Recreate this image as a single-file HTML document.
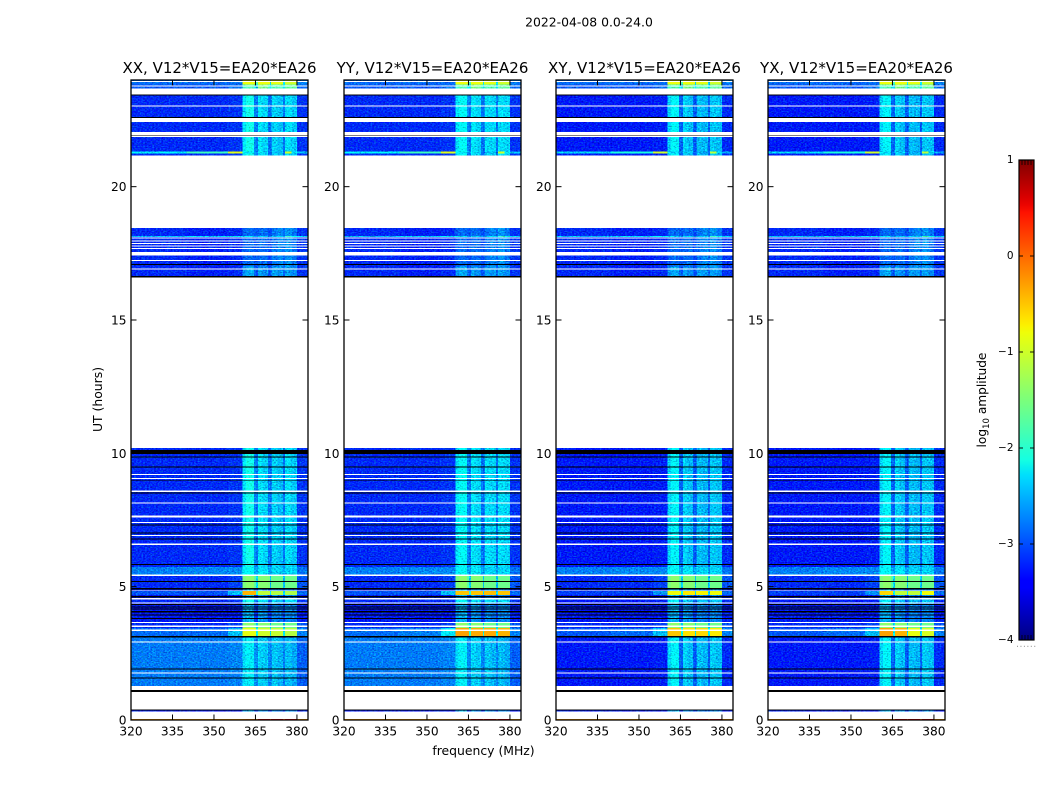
<!DOCTYPE html>
<html>
<head>
<meta charset="utf-8">
<title>2022-04-08 0.0-24.0</title>
<style>
html,body{margin:0;padding:0;background:#fff;}
svg{display:block;font-family:"DejaVu Sans","Liberation Sans",sans-serif;fill:#000;}
</style>
</head>
<body>
<svg id="chart" xmlns="http://www.w3.org/2000/svg" width="1050" height="800" viewBox="0 0 1050 800">
  <defs>
    <linearGradient id="jetGradient" x1="0" y1="1" x2="0" y2="0"></linearGradient>
    <filter id="grain" filterUnits="userSpaceOnUse" x="0" y="0" width="1050" height="800" color-interpolation-filters="sRGB">
      <feTurbulence type="fractalNoise" baseFrequency="0.55 0.8" numOctaves="1" seed="7" result="n"/>
      <feColorMatrix in="n" type="matrix" values="2.4 0 0 0 -0.7  2.4 0 0 0 -0.7  2.4 0 0 0 -0.7  0 0 0 0 1" result="m"/>
      <feColorMatrix in="n" type="matrix" values="0 0 0 0 0  0 1.9 0 0 -0.75  0 0 0 0 0  0 0 0 0 1" result="g"/>
      <feComposite in="SourceGraphic" in2="m" operator="arithmetic" k1="0.5" k2="0.78" k3="0" k4="0" result="shaded"/>
      <feComposite in="shaded" in2="g" operator="arithmetic" k1="0" k2="1" k3="0.48" k4="0" result="speckled"/>
      <feComposite in="speckled" in2="SourceAlpha" operator="in"/>
    </filter>
  </defs>
  <text x="589" y="26.5" font-size="12.4" text-anchor="middle">2022-04-08 0.0-24.0</text>
  <text x="102" y="399.5" font-size="12.4" text-anchor="middle" transform="rotate(-90 102 399.5)">UT (hours)</text>
  <text x="483.5" y="755" font-size="12.4" text-anchor="middle">frequency (MHz)</text>
  <text x="986" y="400" font-size="12.2" text-anchor="middle" transform="rotate(-90 986 400)">log<tspan font-size="8.5" dy="3">10</tspan><tspan dy="-3"> amplitude</tspan></text>
  <g id="panels"></g>
  <g id="colorbar"></g>
</svg>
<script>
// ---- data ----
const polarisations = ['XX', 'YY', 'XY', 'YX'];
const baselineLabel = 'V12*V15=EA20*EA26';
const frequencyEdges = [320, 340, 355, 360.4, 361.5, 364.5, 365.2, 365.9, 367.5, 369.5, 370.3, 370.6, 371, 373, 375, 375.7, 378, 380, 384];
const frequencyTicks = [320, 335, 350, 365, 380];
const hourTicks = [0, 5, 10, 15, 20];
const colorbarTicks = [1, 0, -1, -2, -3, -4];
const colorbarLabels = ['1', '0', '\u22121', '\u22122', '\u22123', '\u22124'];

// log10 amplitude per frequency bin, per spectrum kind (optionally per polarisation)
const quiet = [-3.3, -3.3, -3.25, -2.4, -2.15, -2.85, -2.95, -2.4, -2.5, -2.95, -3, -2.85, -2.5, -2.6, -2.95, -2.45, -2.55, -3.25];
const quietYY = [-3.3, -3.3, -3.25, -2.4, -2.25, -2.85, -2.95, -2.4, -2.5, -2.95, -3, -2.85, -2.45, -2.5, -2.95, -2.45, -2.5, -3.25];
const quietCross = [-3.4, -3.4, -3.35, -2.5, -2.3, -3, -3.05, -2.5, -2.6, -3.05, -3.1, -2.95, -2.6, -2.65, -3.05, -2.55, -2.6, -3.3];
const weak = [-3.3, -3.35, -3.3, -3.05, -3, -3.1, -3.1, -3, -3, -3.15, -3.15, -3.1, -2.95, -2.85, -3, -2.8, -2.95, -3.25];
const weakLower = [-3.3, -3.35, -3.3, -2.8, -2.7, -3, -3.1, -2.75, -2.85, -3.1, -3.1, -3, -2.75, -2.8, -3, -2.75, -2.85, -3.25];
const dim = [-3.5, -3.5, -3.45, -2.75, -2.65, -3.2, -3.25, -2.75, -2.85, -3.2, -3.25, -3.15, -2.85, -2.95, -3.2, -2.85, -2.9, -3.35];
const band = [-3.3, -3.3, -3.2, -1.5, -1.4, -1.7, -2.5, -1.45, -1.45, -1.5, -2.6, -1.6, -1.6, -1.6, -2.6, -1.6, -1.6, -3.1];
const wide = [-2.9, -2.85, -2.85, -2.3, -2.25, -2.65, -2.75, -2.4, -2.4, -2.75, -2.75, -2.65, -2.5, -2.5, -2.75, -2.5, -2.5, -2.95];
const sky = [-2.92, -2.92, -2.88, -2.45, -2.35, -2.8, -2.85, -2.5, -2.55, -2.85, -2.9, -2.8, -2.55, -2.65, -2.9, -2.6, -2.7, -3.05];
const hotXX = [-3, -3, -2.6, -0.85, -0.85, -0.85, -2.2, -1, -1, -1, -2.4, -1.05, -1.05, -1.05, -2.4, -1.15, -1.15, -2.9];
const hotYY = [-3, -2.9, -2.4, -0.3, -0.3, -0.3, -2, -0.35, -0.35, -0.35, -2.2, -0.35, -0.35, -0.35, -2.2, -0.4, -0.4, -2.9];
const hotXY = [-3.1, -3, -2.6, -0.5, -0.5, -0.5, -2.2, -0.65, -0.65, -0.65, -2.4, -0.6, -0.6, -0.6, -2.4, -0.7, -0.7, -2.9];
const hotYX = [-3.1, -3, -2.6, -0.3, -0.3, -0.3, -2.2, -0.4, -0.4, -0.4, -2.4, -0.85, -0.85, -0.85, -2.4, -0.95, -0.95, -2.9];
const warmXX = [-3.1, -3.1, -2.6, -0.4, -0.4, -0.4, -2, -1.1, -1.1, -1.1, -2.4, -1.15, -1.15, -1.15, -2.4, -1.2, -1.2, -3];
const warmYY = [-3.1, -3.1, -2.6, -0.5, -0.5, -0.5, -2, -0.5, -0.5, -0.5, -2.4, -0.45, -0.45, -0.45, -2.4, -0.5, -0.5, -3];
const warmXY = [-3.2, -3.2, -2.8, -0.8, -0.8, -0.8, -2.2, -0.7, -0.7, -0.7, -2.4, -0.75, -0.75, -0.75, -2.4, -0.8, -0.8, -3];
const warmYX = [-3.2, -3.2, -2.8, -0.6, -0.6, -0.6, -2.2, -1.1, -1.1, -1.1, -2.4, -1.1, -1.1, -1.1, -2.4, -0.8, -0.8, -3];
const sparkLine = [-2.3, -1.9, -0.9, -2.3, -2.4, -2.8, -2.8, -2.4, -2.5, -3, -3, -2.9, -2.6, -2.6, -2.9, -1, -2.4, -2.6];
const sparkCross = [-2.5, -2.1, -1, -2.4, -2.5, -2.9, -2.9, -2.5, -2.6, -3, -3, -2.9, -2.7, -2.7, -2.9, -1.1, -2.5, -2.7];
const sparkCyan = [-2.6, -2.5, -2.4, -2.4, -2.4, -2.7, -2.7, -2.5, -2.5, -2.8, -2.8, -2.7, -2.5, -2.5, -2.6, -1.9, -2.2, -2.5];
const crown = [-3, -3, -3, -0.8, -0.8, -0.8, -1.8, -0.8, -0.8, -0.8, -2.4, -0.85, -0.85, -0.85, -2.4, -1, -1, -2.9];
const crownLow = [-3.1, -3.1, -3, -1.9, -1.8, -2.2, -2.5, -1.5, -1.6, -1.9, -2.4, -1.9, -1.8, -1.8, -2.4, -1.7, -1.7, -3];
const edgeRow = [-0.3, -0.3, -0.3, -0.2, -0.1, -0.1, -0.2, 0.6, 0.6, 0.6, 0, 0.6, 0.6, 0.6, 0, 0.6, 0.6, -0.3];

const spectra = {
  quiet: quiet, quiet_YY: quietYY, quiet_XY: quietCross, quiet_YX: quietCross,
  weak: weak, weakLower: weakLower, dim: dim, band: band, wide: wide,
  sky: sky, sky_XY: quietCross, sky_YX: quietCross,
  hot_XX: hotXX, hot_YY: hotYY, hot_XY: hotXY, hot_YX: hotYX,
  warm_XX: warmXX, warm_YY: warmYY, warm_XY: warmXY, warm_YX: warmYX,
  spark: sparkLine, spark_XY: sparkCross, spark_YX: sparkCross,
  sparkCyan: sparkCyan, crown: crown, crownLow: crownLow, edge: edgeRow
};
// kinds whose bright cells look flat rather than noisy in the reference
const flatKinds = ['hot', 'warm', 'band', 'spark', 'crown', 'edge'];
const flatAbove = -2.2;

// [start hour, end hour, kind] in paint order
const spectrumRows = [
  [0, 0.04, 'edge'], [0.31, 0.35, 'dim'],
  [1.27, 3.11, 'sky'],
  [3.15, 3.45, 'hot'], [3.45, 3.63, 'band'],
  [3.68, 4.37, 'dim'], [4.41, 4.51, 'quiet'], [4.57, 4.68, 'dim'],
  [4.68, 4.83, 'warm'], [4.86, 4.95, 'dim'], [4.95, 5.40, 'band'],
  [5.45, 5.74, 'wide'], [5.74, 9.97, 'quiet'], [10.12, 10.20, 'quiet'],
  [16.63, 17.0, 'weakLower'], [17.0, 18.45, 'weak'], [18.11, 18.15, 'sparkCyan'],
  [21.17, 23.46, 'quiet'], [21.25, 21.31, 'spark'],
  [23.68, 23.84, 'crownLow'], [23.84, 24, 'crown']
];
// rows with no data (white)
const missingRows = [
  [1.75, 1.79], [2.91, 2.95], [3.34, 3.39], [3.49, 3.54], [3.63, 3.68],
  [4.37, 4.41], [4.51, 4.57], [4.83, 4.86], [5.40, 5.45],
  [6.57, 6.61], [6.90, 6.94], [7.38, 7.43], [7.60, 7.67], [8.12, 8.15],
  [8.55, 8.61], [9.04, 9.08], [9.19, 9.23],
  [16.89, 16.93], [17.21, 17.25], [17.42, 17.55], [17.66, 17.70], [17.76, 17.79],
  [17.85, 17.89], [17.94, 17.98], [18.05, 18.09],
  [21.86, 21.91], [21.94, 22.05], [22.43, 22.58], [23.01, 23.05], [23.46, 23.68],
  [23.76, 23.80], [23.92, 23.96]
];
// rows flagged as zero amplitude (black)
const blackRows = [
  [0.35, 0.39], [1.05, 1.12], [1.56, 1.60], [1.89, 1.93], [3.10, 3.15],
  [3.78, 3.82], [3.91, 3.95], [4.04, 4.08], [4.15, 4.19], [4.21, 4.25], [4.31, 4.35],
  [4.60, 4.65], [4.90, 4.95], [5.17, 5.22], [5.81, 5.85],
  [6.76, 6.81], [6.99, 7.03], [7.29, 7.33], [8.50, 8.53], [8.96, 8.99],
  [9.47, 9.50], [9.85, 9.88], [9.97, 10.12],
  [16.60, 16.65], [17.06, 17.10],
  [21.91, 21.94], [22.58, 22.62], [23.42, 23.46]
];

// ---- layout + scales ----
const NS = 'http://www.w3.org/2000/svg';
const plotTop = 80, plotBottom = 720, plotWidth = 177;
const panelStep = 212.33, firstPanel = 131.4;
const freqMin = 320, freqMax = 384, hourMax = 24, ampMin = -4, ampMax = 1;
const cbLeft = 1019, cbWidth = 15, cbTop = 160, cbBottom = 640;

function xScale(f, left) { return left + (f - freqMin) / (freqMax - freqMin) * plotWidth; }
function yScale(h) { return plotBottom - h / hourMax * (plotBottom - plotTop); }
function cbScale(v) { return cbBottom - (v - ampMin) / (ampMax - ampMin) * (cbBottom - cbTop); }

function piece(t, pts) {
  for (let i = 1; i < pts.length; i++) {
    if (t <= pts[i][0]) {
      const a = pts[i - 1], b = pts[i];
      return a[1] + (b[1] - a[1]) * (t - a[0]) / (b[0] - a[0]);
    }
  }
  return pts[pts.length - 1][1];
}
function jet(t) {
  t = Math.max(0, Math.min(1, t));
  const r = piece(t, [[0, 0], [0.35, 0], [0.66, 1], [0.89, 1], [1, 0.5]]);
  const g = piece(t, [[0, 0], [0.125, 0], [0.375, 1], [0.64, 1], [0.91, 0], [1, 0]]);
  const b = piece(t, [[0, 0.5], [0.11, 1], [0.34, 1], [0.65, 0], [1, 0]]);
  return 'rgb(' + Math.round(r * 255) + ',' + Math.round(g * 255) + ',' + Math.round(b * 255) + ')';
}
function ampColor(v) { return jet((v - ampMin) / (ampMax - ampMin)); }

function make(tag, attrs, parent) {
  const el = document.createElementNS(NS, tag);
  for (const k in attrs) el.setAttribute(k, attrs[k]);
  parent.appendChild(el);
  return el;
}

// ---- panels ----
const panelsRoot = document.getElementById('panels');
polarisations.forEach(function (pol, p) {
  const left = Math.round(firstPanel + p * panelStep);
  const panel = make('g', {}, panelsRoot);
  
  

  const title = make('text', { x: left + plotWidth / 2, y: 73, 'font-size': 15, 'text-anchor': 'middle' }, panel);
  title.textContent = pol + ', ' + baselineLabel;
  
  

  const cells = make('g', { filter: 'url(#grain)', 'shape-rendering': 'crispEdges' }, panel);
  
  

  const flatCells = make('g', { 'shape-rendering': 'crispEdges' }, panel);
  
  

  spectrumRows.forEach(function (row) {
    const values = spectra[row[2] + '_' + pol] || spectra[row[2]];
    const isFlat = flatKinds.indexOf(row[2]) >= 0;
    const y0 = yScale(row[1]), y1 = yScale(row[0]);
    values.forEach(function (v, b) {
      const target = isFlat && v > flatAbove ? flatCells : cells;
      const x0 = xScale(frequencyEdges[b], left), x1 = xScale(frequencyEdges[b + 1], left);
      const cell = make('rect', { x: x0, y: y0, width: x1 - x0, height: y1 - y0, fill: ampColor(v) }, target);
      
      
    });
  });

  const flags = make('g', { 'shape-rendering': 'crispEdges' }, panel);
  
  
  missingRows.forEach(function (row) {
    const r = make('rect', { x: left, y: yScale(row[1]), width: plotWidth, height: yScale(row[0]) - yScale(row[1]), fill: '#fff' }, flags);
    
    
  });
  blackRows.forEach(function (row) {
    const r = make('rect', { x: left, y: yScale(row[1]), width: plotWidth, height: yScale(row[0]) - yScale(row[1]), fill: '#000' }, flags);
    
    
  });

  frequencyTicks.forEach(function (f) {
    const x = xScale(f, left);
    const t1 = make('line', { x1: x, x2: x, y1: plotBottom, y2: plotBottom - 5.5, stroke: '#000', 'stroke-width': 1 }, panel);
    
    
    const t2 = make('line', { x1: x, x2: x, y1: plotTop, y2: plotTop + 5.5, stroke: '#000', 'stroke-width': 1 }, panel);
    
    
    const lab = make('text', { x: x, y: 735.5, 'font-size': 12.2, 'text-anchor': 'middle' }, panel);
    lab.textContent = f;
    
    
  });
  hourTicks.forEach(function (h) {
    const y = yScale(h);
    const t1 = make('line', { x1: left, x2: left + 5.5, y1: y, y2: y, stroke: '#000', 'stroke-width': 1 }, panel);
    
    
    const t2 = make('line', { x1: left + plotWidth, x2: left + plotWidth - 5.5, y1: y, y2: y, stroke: '#000', 'stroke-width': 1 }, panel);
    
    
    const lab = make('text', { x: left - 4.5, y: y + 4.5, 'font-size': 12.2, 'text-anchor': 'end' }, panel);
    lab.textContent = h;
    
    
  });

  const frame = make('rect', { x: left, y: plotTop, width: plotWidth, height: plotBottom - plotTop, fill: 'none', stroke: '#000', 'stroke-width': 1.3 }, panel);
  
  
});

// ---- colorbar ----
const gradient = document.getElementById('jetGradient');
for (let i = 0; i <= 64; i++) {
  make('stop', { offset: i / 64, 'stop-color': jet(i / 64) }, gradient);
}
const cbRoot = document.getElementById('colorbar');
const cbRamp = make('rect', { x: cbLeft, y: cbTop, width: cbWidth, height: cbBottom - cbTop, fill: 'url(#jetGradient)', stroke: '#000', 'stroke-width': 1.2 }, cbRoot);


colorbarTicks.forEach(function (v, i) {
  const y = cbScale(v);
  if (v < ampMax && v > ampMin) {
    const a = make('line', { x1: cbLeft, x2: cbLeft + 4, y1: y, y2: y, stroke: '#000', 'stroke-width': 0.9 }, cbRoot);
    
    
    const b = make('line', { x1: cbLeft + cbWidth, x2: cbLeft + cbWidth - 4, y1: y, y2: y, stroke: '#000', 'stroke-width': 0.9 }, cbRoot);
    
    
  }
  const lab = make('text', { x: 1013.5, y: y + 3, 'font-size': 10.5, 'text-anchor': 'end' }, cbRoot);
  lab.textContent = colorbarLabels[i];
  
  
});
[0.2, 0.4, 0.6, 0.8].forEach(function (f) {
  const x = cbLeft + f * cbWidth;
  const top = make('line', { x1: x, x2: x, y1: cbTop, y2: cbTop + 5, stroke: '#000', 'stroke-width': 0.8 }, cbRoot);
  
  
  const bot = make('line', { x1: x, x2: x, y1: cbBottom, y2: cbBottom - 5, stroke: '#000', 'stroke-width': 0.8 }, cbRoot);
  
  
});
[0, 1, 2, 3, 4, 5].forEach(function (i) {
  const dot = make('rect', { x: 1017 + i * 3.45, y: 645.8, width: 1, height: 1, fill: '#888' }, cbRoot);
  
  
});
</script>
</body>
</html>
